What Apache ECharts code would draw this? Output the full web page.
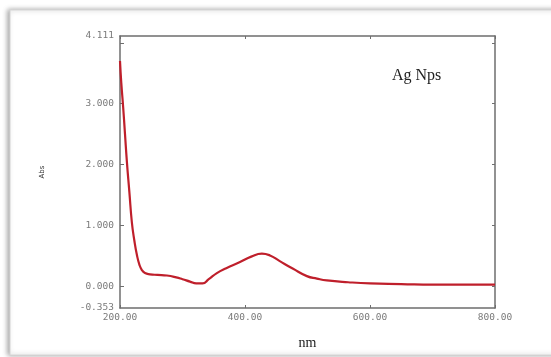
<!DOCTYPE html>
<html>
<head>
<meta charset="utf-8">
<script src="https://cdn.jsdelivr.net/npm/echarts@6/dist/echarts.min.js"></script>
<style>
  html, body { margin: 0; padding: 0; background: #fff; }
  #chart { width: 551px; height: 357px; }
</style>
</head>
<body>
<div id="chart"></div>
<script>
// wavelength (nm) and absorbance
const wavelengths = [200, 202, 205, 208, 211, 215, 219, 223, 227, 231, 235, 240, 248, 260, 275, 290, 300, 312, 322, 332, 342, 355, 370, 392, 410, 427, 440, 455, 477, 499, 515, 531, 565, 600, 650, 700, 800];
const absorbance  = [3.70, 3.35, 2.95, 2.50, 2.05, 1.55, 1.05, 0.75, 0.52, 0.36, 0.27, 0.22, 0.20, 0.19, 0.18, 0.15, 0.12, 0.08, 0.05, 0.05, 0.12, 0.22, 0.30, 0.40, 0.49, 0.54, 0.51, 0.42, 0.29, 0.17, 0.13, 0.10, 0.07, 0.05, 0.04, 0.03, 0.03];

const yLabelValues = [-0.353, 0, 1, 2, 3, 4.111];
const yTickValues = [0, 1, 2, 3, 4];

const yMin = -0.353, yMax = 4.111;
const axisGray = '#6e6e6e';
const labelFont = { color: '#7a7a7a', fontSize: 9.5, fontFamily: 'DejaVu Sans Mono' };

const chart = echarts.init(document.getElementById('chart'));

chart.setOption({
  animation: false,
  backgroundColor: '#fff',
  graphic: [
    {
      type: 'rect',
      z: -10,
      shape: { x: 10, y: 10, width: 560, height: 345 },
      style: {
        fill: '#fff',
        stroke: '#d6d6d6',
        lineWidth: 1,
        shadowBlur: 5,
        shadowOffsetX: -2,
        shadowColor: 'rgba(0,0,0,0.35)'
      }
    },
    {
      type: 'text',
      left: 392,
      top: 68,
      style: {
        text: 'Ag Nps',
        fill: '#222',
        font: '16px "Liberation Serif"'
      }
    }
  ],
  grid: { left: 120, top: 36, right: 56, bottom: 49 },
  xAxis: [
    {
      type: 'value',
      position: 'bottom',
      min: 200, max: 800, interval: 200,
      name: 'nm',
      nameLocation: 'middle',
      nameGap: 28,
      nameTextStyle: { color: '#222', fontSize: 14, fontFamily: 'Liberation Serif' },
      axisLine: { show: true, onZero: false, lineStyle: { color: axisGray, width: 1.5 } },
      axisTick: { show: true, inside: true, length: 3, lineStyle: { color: axisGray } },
      axisLabel: { ...labelFont, margin: 5, formatter: v => v.toFixed(2) },
      splitLine: { show: false }
    },
    {
      type: 'value',
      position: 'top',
      min: 200, max: 800, interval: 200,
      axisLine: { show: true, onZero: false, lineStyle: { color: axisGray, width: 1.5 } },
      axisTick: { show: true, inside: true, length: 3, lineStyle: { color: axisGray } },
      axisLabel: { show: false },
      splitLine: { show: false }
    }
  ],
  yAxis: [
    {
      type: 'value',
      position: 'left',
      min: yMin, max: yMax,
      name: 'Abs',
      nameLocation: 'middle',
      nameRotate: 90,
      nameGap: 74,
      nameTextStyle: { color: '#333', fontSize: 7, fontFamily: 'DejaVu Sans' },
      axisLine: { show: true, onZero: false, lineStyle: { color: axisGray, width: 1.5 } },
      axisTick: { show: true, inside: true, length: 4, customValues: yTickValues, lineStyle: { color: axisGray } },
      axisLabel: {
        ...labelFont,
        margin: 6,
        customValues: yLabelValues,
        formatter: v => v.toFixed(3)
      },
      splitLine: { show: false }
    },
    {
      type: 'value',
      position: 'right',
      min: yMin, max: yMax,
      axisLine: { show: true, onZero: false, lineStyle: { color: axisGray, width: 1.5 } },
      axisTick: { show: true, inside: true, length: 3, customValues: yTickValues, lineStyle: { color: axisGray } },
      axisLabel: { show: false },
      splitLine: { show: false }
    }
  ],
  series: [
    {
      type: 'line',
      data: wavelengths.map((w, i) => [w, absorbance[i]]),
      smooth: true,
      showSymbol: false,
      lineStyle: { color: '#bf1f2b', width: 2.2 }
    }
  ]
});
</script>
</body>
</html>
